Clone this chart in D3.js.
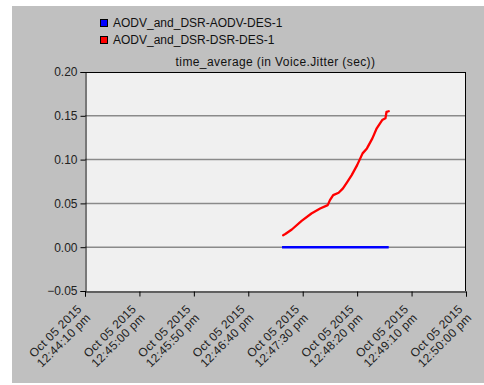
<!DOCTYPE html>
<html><head><meta charset="utf-8">
<script src="https://cdn.jsdelivr.net/npm/d3@7"></script>
<style>html,body{margin:0;padding:0;background:#fff;}svg{display:block;}</style>
</head><body>
<svg id="c" width="484" height="385"></svg>
<script>
const seriesNames = ["AODV_and_DSR-AODV-DES-1", "AODV_and_DSR-DSR-DES-1"];
const seriesColors = ["#0000ff", "#ff0000"];
const chartTitle = "time_average (in Voice.Jitter (sec))";
const dateLabel = "Oct 05 2015";
const xTickTimes = ["12:44:10", "12:45:00", "12:45:50", "12:46:40", "12:47:30", "12:48:20", "12:49:10", "12:50:00"];
const xTickLabels = ["12:44:10 pm", "12:45:00 pm", "12:45:50 pm", "12:46:40 pm", "12:47:30 pm", "12:48:20 pm", "12:49:10 pm", "12:50:00 pm"];
const yTicks = [-0.05, 0.00, 0.05, 0.10, 0.15, 0.20];

const aodvTimes = ["12:47:11", "12:47:40", "12:48:10", "12:48:30", "12:48:49"];
const aodvValues = [0, 0, 0, 0, 0];

const dsrTimes = ["12:47:12", "12:47:14", "12:47:20", "12:47:29", "12:47:38", "12:47:46", "12:47:53", "12:47:55", "12:47:58", "12:48:03", "12:48:07", "12:48:11", "12:48:15", "12:48:20", "12:48:25", "12:48:29", "12:48:34", "12:48:38", "12:48:43", "12:48:46", "12:48:47", "12:48:49"];
const dsrValues = [0.0137, 0.0150, 0.0202, 0.0301, 0.0385, 0.0442, 0.0480, 0.0537, 0.0594, 0.0621, 0.0671, 0.0746, 0.0823, 0.0937, 0.1071, 0.1128, 0.1242, 0.1357, 0.1451, 0.1471, 0.1546, 0.1552];

const parseT = d3.timeParse("%Y-%m-%d %H:%M:%S");
const toDate = s => parseT("2015-10-05 " + s);

const svg = d3.select("#c");
const font = "'Liberation Sans', Arial, sans-serif";
const L = 85, R = 466, T = 72, B = 291;

svg.append("rect").attr("x", 12).attr("y", 6).attr("width", 472).attr("height", 377).attr("fill", "#c0c0c0");
svg.append("rect").attr("x", L).attr("y", T).attr("width", R - L).attr("height", B - T).attr("fill", "#f0f0f0");

const x = d3.scaleTime().domain([toDate(xTickTimes[0]), toDate(xTickTimes[xTickTimes.length - 1])]).range([L, R]);
const y = d3.scaleLinear().domain([-0.05, 0.20]).range([B, T]);

svg.append("g").selectAll("line").data(yTicks.filter(v => v > -0.05 && v < 0.20)).join("line")
  .attr("x1", L).attr("x2", R).attr("y1", d => y(d)).attr("y2", d => y(d))
  .attr("stroke", "#8a8a8a").attr("stroke-width", 1.5);

const line = d3.line().x(d => x(d[0])).y(d => y(d[1]));
svg.append("path").datum(aodvTimes.map((t, i) => [toDate(t), aodvValues[i]]))
  .attr("d", line).attr("fill", "none").attr("stroke", seriesColors[0]).attr("stroke-width", 2.5);
svg.append("path").datum(dsrTimes.map((t, i) => [toDate(t), dsrValues[i]]))
  .attr("d", line).attr("fill", "none").attr("stroke", seriesColors[1]).attr("stroke-width", 2.3)
  .attr("stroke-linejoin", "round").attr("stroke-linecap", "round");

svg.append("line").attr("x1", L).attr("x2", R).attr("y1", T + 0.5).attr("y2", T + 0.5).attr("stroke", "#000");
svg.append("line").attr("x1", R - 0.5).attr("x2", R - 0.5).attr("y1", T).attr("y2", B).attr("stroke", "#000");

const yAxis = d3.axisLeft(y).tickValues(yTicks).tickFormat(d3.format(".2f")).tickSize(5).tickPadding(3);
const gy = svg.append("g").attr("transform", `translate(${L + 0.5},0)`).call(yAxis);
gy.select(".domain").attr("stroke", "#000");
gy.selectAll("text").attr("font-family", font).attr("font-size", 12).attr("fill", "#222");

const xAxis = d3.axisBottom(x).tickValues(xTickTimes.map(toDate)).tickSize(5).tickFormat("");
const gx = svg.append("g").attr("transform", `translate(0,${B + 0.5})`).call(xAxis);
gx.select(".domain").attr("stroke", "#000");

const lab = svg.append("g");
xTickTimes.forEach((t, i) => {
  const g = lab.append("g").attr("transform", `translate(${x(toDate(t))},${B}) rotate(-45)`);
  const tx = g.append("text").attr("text-anchor", "end").attr("font-family", font).attr("font-size", 12)
    .attr("letter-spacing", 0.3).attr("fill", "#222");
  tx.append("tspan").attr("x", -15).attr("y", 11.5).text(dateLabel);
  tx.append("tspan").attr("x", -15).attr("y", 24).text(xTickLabels[i]);
});

svg.append("text").attr("x", (L + R) / 2).attr("y", 66).attr("text-anchor", "middle")
  .attr("font-family", font).attr("font-size", 12).attr("letter-spacing", 0.4).attr("fill", "#111").text(chartTitle);

const lg = svg.append("g");
seriesNames.forEach((n, i) => {
  const yy = 19 + i * 17;
  lg.append("rect").attr("x", 100.5).attr("y", yy + 0.5).attr("width", 7).attr("height", 7)
    .attr("fill", seriesColors[i]).attr("stroke", "#000").attr("stroke-width", 1);
  lg.append("text").attr("x", 113).attr("y", yy + 8).attr("font-family", font).attr("font-size", 12)
    .attr("fill", "#111").text(n);
});
</script>
</body></html>
